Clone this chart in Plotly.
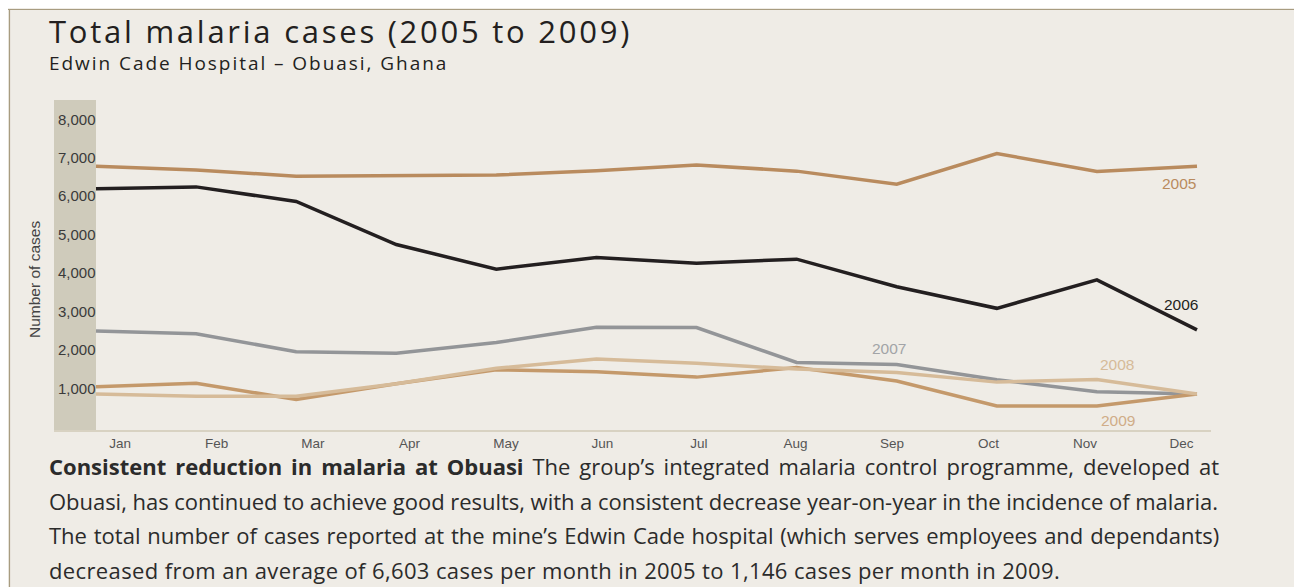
import plotly.graph_objects as go

months = ["Jan", "Feb", "Mar", "Apr", "May", "Jun", "Jul", "Aug", "Sep", "Oct", "Nov", "Dec"]
cases_2005 = [6780, 6680, 6520, 6530, 6550, 6660, 6810, 6650, 6310, 7110, 6640, 6780]
cases_2006 = [6190, 6240, 5860, 4740, 4100, 4400, 4250, 4360, 3640, 3080, 3820, 2520]
cases_2007 = [2490, 2420, 1950, 1910, 2190, 2590, 2580, 1670, 1620, 1220, 910, 850]
cases_2008 = [850, 790, 790, 1120, 1520, 1760, 1650, 1500, 1410, 1160, 1230, 850]
cases_2009 = [1040, 1130, 710, 1120, 1480, 1430, 1290, 1540, 1190, 540, 540, 850]
y_ticks = [1000, 2000, 3000, 4000, 5000, 6000, 7000, 8000]

BG = "#efece6"
BAND = "#cfcbbb"
series = [
    ("2005", cases_2005, "#b98b5e", "#b98b5e"),
    ("2006", cases_2006, "#231f20", "#231f20"),
    ("2007", cases_2007, "#939598", "#a2a4a7"),
    ("2008", cases_2008, "#d6bb99", "#d6bb99"),
    ("2009", cases_2009, "#c4996b", "#d0ad88"),
]

x_idx = list(range(len(months)))
fig = go.Figure()
draw_order = ["2005", "2006", "2007", "2009", "2008"]
lookup = {s[0]: s for s in series}
for name in draw_order:
    _, vals, col, _ = lookup[name]
    fig.add_trace(go.Scatter(x=x_idx, y=vals, mode="lines", name=name,
                             line=dict(color=col, width=3.5), hoverinfo="skip"))

LABEL_FONT = "Liberation Sans"
label_specs = {
    "2005": (11, cases_2005[11], 1, -17, "right"),
    "2006": (11, cases_2006[11], 3, 25, "right"),
    "2007": (8, cases_2007[8], -8, 16, "center"),
    "2008": (10, cases_2008[10], 20, 15, "center"),
    "2009": (10, cases_2009[10], 21, -15, "center"),
}
for name, (xi, yv, xs, ys, anc) in label_specs.items():
    fig.add_annotation(x=xi, y=yv, xref="x", yref="y", text=name, showarrow=False,
                       xanchor=anc, yanchor="middle", xshift=xs, yshift=ys,
                       font=dict(family=LABEL_FONT, size=15.5, color=lookup[name][3]))

# figure is placed at (8, 8) on the page; helpers take page coordinates
OFF = 8
W, H = 1290, 579
ml, mr, mt, mb = 46, 87, 92, 157
pw = W - ml - mr
ph = H - mt - mb

def px(sx):
    return (sx - OFF - ml) / pw

def py(sy):
    return (H - mb - (sy - OFF)) / ph

shapes = [
    dict(type="rect", xref="paper", yref="paper", x0=0, x1=px(96), y0=0, y1=1,
         fillcolor=BAND, line=dict(width=0), layer="below"),
    dict(type="line", xref="paper", yref="paper", x0=px(8), x1=px(1298), y0=py(9.5), y1=py(9.5),
         line=dict(color="#a89c80", width=1.2), layer="below"),
    dict(type="line", xref="paper", yref="paper", x0=px(9.5), x1=px(9.5), y0=py(9), y1=py(600),
         line=dict(color="#a89c80", width=1.2), layer="below"),
    dict(type="line", xref="paper", yref="paper", x0=px(1296.5), x1=px(1296.5), y0=py(9), y1=py(600),
         line=dict(color="#cfc6ad", width=3), layer="below"),
]

TXT = "Open Sans"

def spaced(text, letter=0.0, word=0.0):
    return f'<span style="letter-spacing:{letter}px;word-spacing:{word}px">{text}</span>'

annotations_extra = [
    dict(text=spaced("Total malaria cases (2005 to 2009)", letter=2.75), x=px(47), y=py(31),
         xanchor="left", yanchor="middle", font=dict(family=TXT, size=31, color="#231f20")),
    dict(text=spaced("Edwin Cade Hospital – Obuasi, Ghana", letter=1.95), x=px(47), y=py(63),
         xanchor="left", yanchor="middle", font=dict(family=TXT, size=19, color="#231f20")),
    dict(text="Number of cases", x=px(34), y=py(280), xanchor="center", yanchor="middle", textangle=-90,
         font=dict(family="Liberation Sans", size=15.5, color="#444444")),
]
body_lines = [
    spaced("<b>Consistent reduction in malaria at Obuasi</b> The group’s integrated malaria control programme, developed at", word=3.2),
    spaced("Obuasi, has continued to achieve good results, with a consistent decrease year-on-year in the incidence of malaria.", letter=-0.03),
    spaced("The total number of cases reported at the mine’s Edwin Cade hospital (which serves employees and dependants)", word=1.1),
    spaced("decreased from an average of 6,603 cases per month in 2005 to 1,146 cases per month in 2009.", letter=0.37),
]
body_y = [466, 501, 535, 570]
for t, yy in zip(body_lines, body_y):
    annotations_extra.append(dict(text=t, x=px(47), y=py(yy), xanchor="left", yanchor="middle",
                                  font=dict(family=TXT, size=22, color="#2b2b2b")))
for a in annotations_extra:
    a.update(xref="paper", yref="paper", showarrow=False)
    fig.add_annotation(**a)

tick_pos = [0.24 + 0.964 * j for j in range(len(months))]

fig.update_layout(
    width=W, height=H,
    margin=dict(l=ml, r=mr, t=mt, b=mb),
    paper_bgcolor=BG, plot_bgcolor="rgba(0,0,0,0)",
    showlegend=False,
    shapes=shapes,
    xaxis=dict(range=[-(96 - 54) / 100.1, 11 + (1211 - 1197) / 100.1], tickvals=tick_pos, ticktext=months,
               showgrid=False, zeroline=False, showline=True, linecolor="#d8d2c2", linewidth=2,
               ticks="", ticklabelstandoff=0,
               tickfont=dict(family="Liberation Sans", size=13.5, color="#555555"),
               fixedrange=True),
    yaxis=dict(range=[-86, 8501], tickvals=y_ticks, tickformat=",d", showgrid=False, zeroline=False,
               showline=False, ticks="", ticklabelposition="inside", ticklabelstandoff=1,
               tickfont=dict(family="Liberation Sans", size=15, color="#3a3a3a"), fixedrange=True),
)

fig.write_html("out.html")
